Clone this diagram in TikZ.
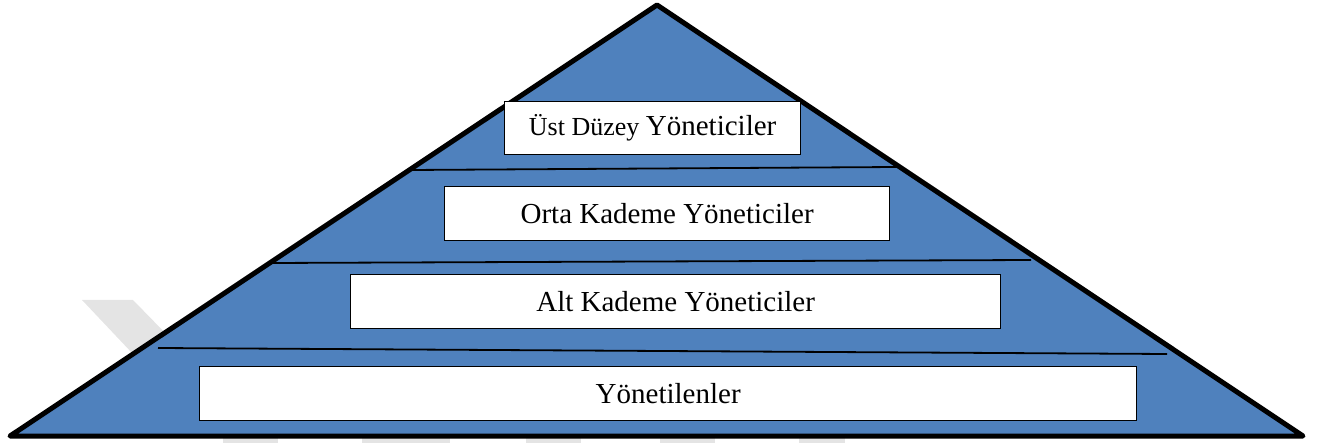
\documentclass[tikz,border=0pt]{standalone}
\usepackage{fontspec}
\setmainfont{Liberation Serif}
\definecolor{pyrblue}{HTML}{4F81BD}
\definecolor{wmgrey}{HTML}{E4E4E4}
\begin{document}
\begin{tikzpicture}[x=1pt,y=-1pt,
  levelbox/.style={draw=black,line width=1.3pt,fill=white,inner sep=0pt,anchor=north west},
  divider/.style={draw=black,line width=1.8pt},
  wm/.style={fill=wmgrey,draw=none}]
\useasboundingbox (0,0) rectangle (1319,443);
% faint watermark
\fill[wm] (82,300) -- (133,300) -- (175,343) -- (150,372) -- cycle;
\foreach \a/\b in {223/278,362/450,526/581,660/715,799/845}
  \fill[wm] (\a,428) rectangle (\b,443);
% pyramid
\draw[line width=5pt,line join=round,fill=pyrblue]
  (10,436) coordinate (bl) -- (657,5) coordinate (apex) -- (1303,436) coordinate (br) -- cycle;
% dividers
\coordinate (d1l) at (410,170); \coordinate (d1r) at (897,167);
\coordinate (d2l) at (270,263); \coordinate (d2r) at (1031,260);
\coordinate (d3l) at (158,348); \coordinate (d3r) at (1167,354);
\draw[divider] (d1l) -- (d1r);
\draw[divider] (d2l) -- (d2r);
\draw[divider] (d3l) -- (d3r);
% boxes
\node[levelbox,minimum width=296pt,minimum height=53pt] (b1) at (504,101) {};
\node[levelbox,minimum width=445pt,minimum height=54pt] (b2) at (444,186) {};
\node[levelbox,minimum width=650pt,minimum height=54pt] (b3) at (350,274) {};
\node[levelbox,minimum width=937pt,minimum height=54pt] (b4) at (199,366) {};
% labels
\node (t1) at (b1.center) {\fontsize{26}{30}\selectfont Üst Düzey \fontsize{29}{32}\selectfont Yöneticiler};
\node (t2) at (b2.center) {\fontsize{29}{32}\selectfont Orta Kademe Yöneticiler};
\node (t3) at (b3.center) {\fontsize{29}{32}\selectfont Alt Kademe Yöneticiler};
\node (t4) at (b4.center) {\fontsize{29}{32}\selectfont Yönetilenler};
\end{tikzpicture}
\end{document}
